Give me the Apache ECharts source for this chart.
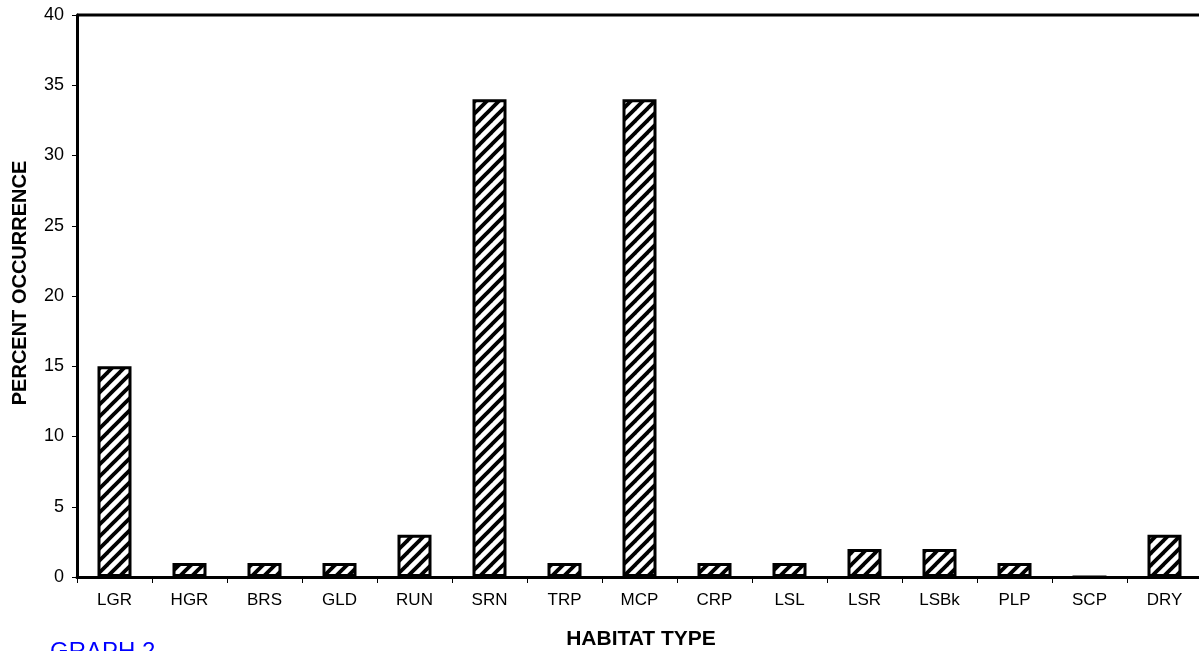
<!DOCTYPE html>
<html><head><meta charset="utf-8">
<script src="https://cdn.jsdelivr.net/npm/echarts@6/dist/echarts.min.js"></script>
<style>html,body{margin:0;padding:0;background:#fff;}#c{width:1199px;height:651px;}</style>
</head><body><div id="c"></div>
<script>
var categories = ['LGR','HGR','BRS','GLD','RUN','SRN','TRP','MCP','CRP','LSL','LSR','LSBk','PLP','SCP','DRY'];
var values = [15,1,1,1,3,34,1,34,1,1,2,2,1,0,3];
var yTicks = {min:0, max:40, interval:5};

var tile = document.createElement('canvas');
var P = 12;
tile.width = P; tile.height = P;
var g = tile.getContext('2d');
g.fillStyle = '#fff'; g.fillRect(0,0,P,P);
g.strokeStyle = '#000'; g.lineWidth = 3.8;
[-P,0,P].forEach(function(o){
  g.beginPath(); g.moveTo(-2+o, P+2); g.lineTo(P+2+o, -2); g.stroke();
});

var FONT = '"Liberation Sans", Arial, sans-serif';
var chart = echarts.init(document.getElementById('c'), null, {renderer:'canvas'});
chart.setOption({
  animation:false,
  backgroundColor:'#fff',
  grid:{left:77, top:15, width:1125, height:562, containLabel:false, outerBoundsMode:'none'},
  xAxis:{
    type:'category', data:categories,
    axisLine:{lineStyle:{color:'#000', width:3}},
    axisTick:{show:true, alignWithLabel:false, length:6, lineStyle:{color:'#000', width:1}},
    axisLabel:{fontFamily:FONT, fontSize:17, color:'#000', margin:15}
  },
  yAxis:{
    type:'value', min:yTicks.min, max:yTicks.max, interval:yTicks.interval,
    axisLine:{show:true, lineStyle:{color:'#000', width:3}},
    axisTick:{show:true, length:5, lineStyle:{color:'#000', width:1}},
    axisLabel:{fontFamily:FONT, fontSize:18, color:'#000', margin:13},
    splitLine:{show:false}
  },
  graphic:[
    {type:'line', shape:{x1:77, y1:15, x2:1199, y2:15}, style:{stroke:'#000', lineWidth:3}},
    {type:'text', x:20, y:283, rotation:Math.PI/2,
      style:{text:'PERCENT OCCURRENCE', fill:'#000', font:'bold 20px ' + FONT, align:'center', verticalAlign:'middle'}},
    {type:'text', x:641, y:639,
      style:{text:'HABITAT TYPE', fill:'#000', font:'bold 21px ' + FONT, align:'center', verticalAlign:'middle'}},
    {type:'text', x:50, y:652,
      style:{text:'GRAPH 2', fill:'#0000ff', font:'24px ' + FONT, align:'left', verticalAlign:'middle'}}
  ],
  series:[{
    type:'bar', data:values, barWidth:34,
    itemStyle:{color:{image:tile, repetition:'repeat'}, borderColor:'#000', borderWidth:3}
  }]
});
</script></body></html>
